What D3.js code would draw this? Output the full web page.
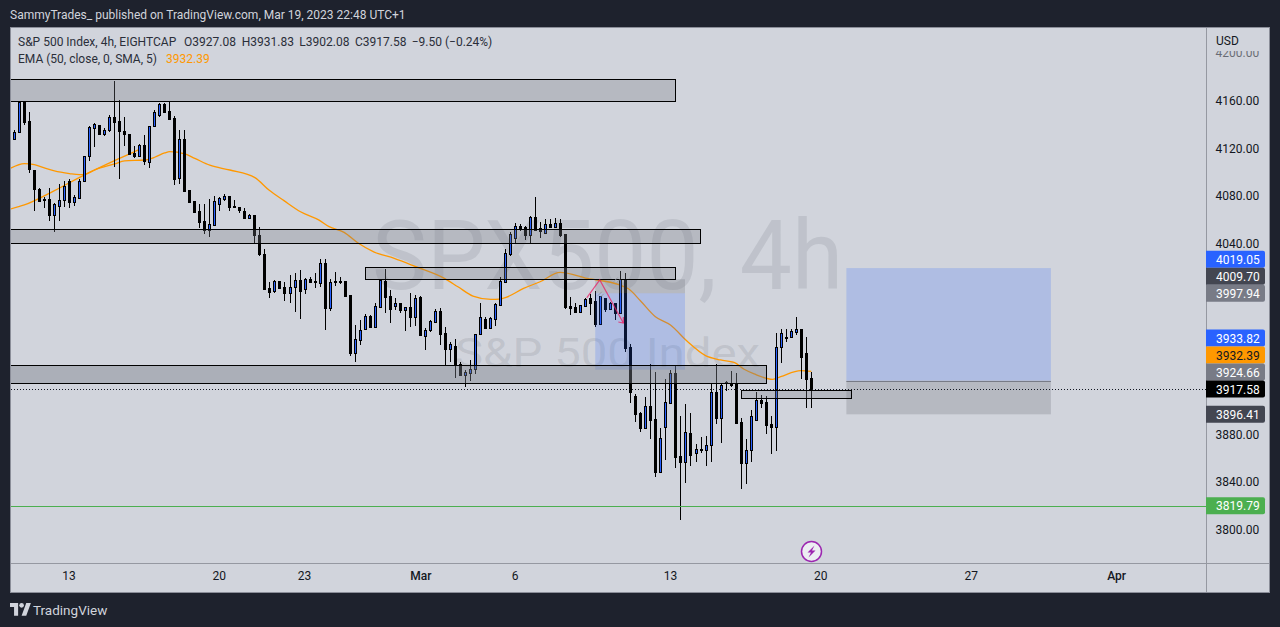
<!DOCTYPE html>
<html lang="en">
<head>
<meta charset="UTF-8">
<title>SPX500 4h</title>
<script src="https://d3js.org/d3.v7.min.js"></script>
<style>
    html, body { margin: 0; padding: 0; background: #1e222d; overflow: hidden; }
    svg { display: block; }
    text { font-family: Roboto, Arial, sans-serif; font-size: 12px; }
    .tick line, .domain { display: none; }
</style>
</head>
<body>
<svg id="chart" width="1280" height="627"></svg>
<script>
// candles
const opens = [4127.9,4127.6,4133.5,4158.6,4142.4,4101.3,4085.7,4077.0,4077.0,4063.9,
    4070.9,4075.9,4092.1,4074.8,4077.6,4091.8,4113.4,4136.8,4138.8,4131.8,
    4134.6,4145.5,4142.2,4133.8,4131.3,4115.3,4113.4,4122.0,4108.3,4138.0,
    4147.2,4156.7,4150.5,4144.7,4094.4,4127.1,4084.3,4075.1,4066.7,4058.3,
    4051.3,4055.5,4073.1,4077.3,4079.3,4071.2,4070.0,4066.7,4061.4,4063.3,
    4046.8,4030.8,4002.3,4000.1,4008.2,4003.2,3998.4,4002.9,4009.0,4001.8,
    4009.9,4008.2,4006.8,4023.3,3985.8,4007.9,4007.4,4008.2,3996.2,3948.1,
    3959.0,3968.2,3978.9,3969.9,3986.7,4008.2,3995.3,3987.5,3989.7,3984.2,
    3986.1,3978.3,3994.5,3962.4,3966.8,3974.1,3982.8,3964.3,3951.5,3953.7,
    3938.3,3929.7,3931.3,3934.1,3963.5,3976.3,3969.1,3976.6,3988.4,4007.6,
    4031.1,4044.5,4054.3,4053.5,4047.0,4061.6,4052.6,4048.7,4056.0,4053.8,
    4056.5,4047.3,3987.2,3986.4,3982.5,3987.5,3993.9,3991.4,3972.4,3993.9,
    3985.0,3989.5,3981.6,4009.6,3952.6,3911.5,3897.5,3885.3,3903.1,3892.2,
    3848.4,3886.1,3906.2,3930.8,3861.2,3856.7,3880.5,3863.7,3867.4,3866.8,
    3870.4,3914.9,3893.6,3923.3,3922.7,3921.6,3889.7,3855.9,3866.2,3892.0,
    3908.7,3906.8,3888.0,3886.1,3952.6,3961.3,3961.0,3965.7,3967.7,3947.6,
    3927.08];
const highs = [4128.0,4134.9,4158.6,4158.6,4149.7,4101.3,4086.3,4078.4,4086.0,4073.4,
    4089.3,4092.1,4093.5,4080.4,4093.5,4112.8,4138.2,4141.0,4139.1,4136.3,
    4147.5,4176.0,4160.0,4145.8,4131.3,4121.5,4123.2,4130.7,4138.2,4151.7,
    4157.8,4157.8,4158.6,4146.6,4134.6,4134.6,4084.3,4075.6,4072.6,4072.6,
    4076.8,4079.3,4079.0,4080.9,4079.5,4076.2,4070.6,4069.2,4064.5,4063.6,
    4053.2,4034.7,4007.1,4009.0,4008.2,4007.6,4013.2,4014.6,4017.4,4011.0,
    4011.3,4015.2,4026.4,4026.4,4009.6,4015.7,4011.8,4008.2,3996.5,3971.3,
    3975.5,3980.2,3979.4,3990.0,4009.0,4018.0,4000.7,3993.7,3990.0,3986.7,
    3997.9,3996.5,3995.6,3968.5,3975.5,3984.4,3985.3,3969.3,3957.3,3959.3,
    3940.6,3933.3,3941.9,3963.8,3989.5,3978.3,3978.3,3989.5,4011.3,4034.7,
    4049.6,4056.5,4055.7,4054.6,4062.7,4078.4,4057.4,4059.9,4059.9,4060.7,
    4059.9,4047.3,3994.5,3990.0,3988.1,3994.2,3997.3,4000.1,3995.6,3993.9,
    3990.9,3989.5,4016.6,4014.6,3955.1,3913.2,3898.7,3910.7,3938.4,3931.6,
    3884.7,3925.8,3933.6,3937.2,3895.0,3905.1,3897.3,3871.3,3877.1,3878.3,
    3922.4,3938.4,3921.9,3924.4,3932.5,3931.4,3893.4,3875.5,3900.1,3915.4,
    3912.6,3911.8,3895.0,3964.6,3968.0,3967.7,3967.7,3977.8,3968.0,3961.3,
    3931.83];
const lows = [4120.0,4127.1,4132.1,4139.1,4099.1,4067.2,4074.8,4069.5,4058.9,4049.6,
    4058.9,4070.6,4069.2,4071.2,4076.8,4091.6,4109.2,4120.9,4130.7,4130.1,
    4133.5,4104.1,4094.1,4121.5,4115.0,4111.7,4112.5,4105.5,4103.3,4137.7,
    4146.1,4149.4,4144.1,4089.1,4089.6,4084.0,4074.8,4065.6,4053.0,4047.4,
    4045.4,4055.5,4067.0,4075.6,4067.2,4069.5,4065.0,4060.8,4060.3,4039.9,
    4029.4,4000.7,3993.9,3998.4,4002.6,3991.7,3989.5,3982.5,3976.6,3997.3,
    4007.4,4002.0,4003.4,3967.4,3983.3,4004.0,4005.7,3994.5,3945.6,3940.3,
    3954.5,3967.1,3969.6,3969.6,3985.3,3981.4,3973.0,3983.9,3981.6,3966.6,
    3969.9,3970.5,3962.9,3950.3,3965.7,3972.7,3954.5,3937.8,3940.6,3927.1,
    3929.4,3919.6,3924.6,3930.2,3963.2,3969.1,3968.8,3970.5,3988.1,4006.8,
    4029.4,4038.9,4050.4,4042.6,4039.8,4050.4,4044.3,4048.4,4053.2,4053.2,
    4045.4,3985.0,3980.0,3981.6,3981.6,3986.7,3980.0,3969.3,3972.1,3982.5,
    3984.4,3975.5,3981.1,3948.7,3906.2,3890.3,3881.6,3885.0,3876.0,3844.2,
    3847.5,3858.1,3905.1,3851.7,3808.1,3839.1,3853.4,3856.5,3864.3,3853.4,
    3856.5,3888.3,3872.7,3916.3,3919.6,3889.4,3834.1,3838.3,3856.5,3891.7,
    3902.0,3880.2,3863.2,3866.0,3939.8,3956.8,3960.2,3963.2,3926.3,3902.0,
    3902.08];
const closes = [4120.4,4132.9,4158.1,4141.9,4101.9,4085.7,4075.6,4075.9,4063.9,4072.6,
    4075.9,4087.9,4074.8,4078.7,4092.1,4112.8,4137.1,4139.6,4131.5,4134.9,
    4145.5,4141.3,4133.8,4131.3,4115.0,4113.1,4122.0,4108.6,4138.0,4150.0,
    4156.7,4150.3,4144.4,4094.1,4127.1,4084.0,4074.8,4066.1,4058.0,4051.3,
    4055.8,4075.1,4077.6,4079.5,4070.6,4070.3,4068.1,4061.1,4063.3,4046.6,
    4030.8,4001.5,3999.3,4007.9,4002.6,3998.4,4003.2,4009.0,4000.1,4009.9,
    4007.6,4007.6,4023.0,3985.8,4007.1,4007.4,4007.9,3995.6,3948.1,3959.3,
    3966.8,3978.6,3969.9,3987.0,4008.8,3995.1,3985.0,3989.7,3984.2,3986.1,
    3977.7,3993.7,3963.2,3966.8,3974.4,3982.8,3964.0,3951.5,3955.1,3937.8,
    3929.7,3931.9,3934.1,3963.5,3977.7,3969.1,3976.9,3988.9,4007.9,4031.4,
    4047.3,4054.0,4052.9,4047.0,4061.6,4051.0,4049.8,4055.7,4053.8,4056.8,
    4047.0,3986.7,3985.8,3982.2,3987.8,3993.1,3990.0,3972.4,3995.3,3985.0,
    3989.7,3981.6,4009.6,3952.3,3915.4,3897.0,3885.3,3903.1,3892.0,3848.4,
    3876.3,3906.5,3930.8,3860.9,3856.7,3881.3,3862.1,3867.1,3866.8,3870.4,
    3914.9,3893.6,3920.7,3922.4,3921.0,3889.4,3855.9,3866.2,3894.8,3908.2,
    3906.2,3887.8,3886.1,3952.6,3964.6,3960.7,3966.0,3967.7,3944.8,3926.3,
    3917.58];

// EMA line, [bar, price]. Two runs as published: the old one and the current one
const emaOld = [[0,4068.4],[3,4072.0],[9,4084.0],[15,4097.2],[21,4109.2],[25,4116.7],[26,4118.7]];
const emaNow = [[0,4102.2],[3,4106.7],[5,4105.8],[7,4103.0],[9,4100.5],[12,4098.3],[14,4097.4],[15,4097.7],
    [17,4101.3],[21,4106.4],[23,4108.9],[27,4109.7],[29,4112.0],[31,4115.6],[32,4116.7],[35,4114.8],
    [37,4111.1],[40,4105.3],[44,4101.3],[49,4094.9],[51.8,4084.5],[54.8,4075.6],[58.1,4066.3],[61.8,4059.3],
    [63.8,4053.8],[66.8,4049.0],[69.5,4040.3],[72.8,4032.5],[76.8,4027.2],[81.1,4020.2],[86.8,4010.4],
    [89.5,4003.4],[92.5,3995.6],[96.1,3992.8],[97.8,3993.1],[99.1,3994.5],[102.6,4002.0],[105.9,4007.6],
    [109.9,4015.5],[115.3,4010.4],[121.6,4005.1],[123.6,4001.5],[125.9,3991.7],[128.9,3978.3],[131.9,3971.3],
    [135.3,3957.4],[138.9,3945.6],[141.9,3942.0],[144.6,3940.0],[146.6,3934.2],[148.6,3930.3],[152.3,3925.8],
    [153.9,3928.0],[157.9,3933.0],[160,3932.39]];

// drawn zones: [from bar, to bar, top price, bottom price]
const zones = [[-1,132.8,4177.4,4158.9],[-1,137.8,4051.6,4039.8],[70.9,132.8,4019.7,4009.6],[-1,151,3937.5,3923.0],[146,168,3917.0,3909.9]];
const shortPos = {from:116.9, to:134.8, stop:4009.70, entry:3997.94, target:3933.82};
const longPos = {from:167, to:207.8, target:4019.05, entry:3924.66, stop:3896.41};
const arrowPts = [[115.2,3994.0],[117.8,4009.1],[122.5,3973.0]];
const markPts = [[118,3997.5],[121.2,4009.5]];
const greenLevel = 3819.79;
const lastClose = 3917.58;

const priceTicks = [4200,4160,4120,4080,4040,3880,3840,3800];
const dateBars = [11.8,41.8,58.8,82,100.8,131.8,161.8,191.8,220.8];
const dateLabels = ["13","20","23","Mar","6","13","20","27","Apr"];

const flagPrices = [4019.05,4009.70,3997.94,3933.82,3932.39,3924.66,3917.58,3896.41,3819.79];
const flagFills = ["#2962ff","#434651","#787b86","#2962ff","#ff9800","#787b86","#000000","#434651","#4caf50"];
const flagInk = ["#fff","#fff","#fff","#fff","#131722","#fff","#fff","#fff","#fff"];

const svg = d3.select("#chart");
const paneL = 11, paneR = 1206, paneT = 28, paneB = 563;

const x = d3.scaleLinear().domain([0,160]).range([9.3,811.3]);
const y = d3.scaleLinear().domain([3800,4160]).range([529.3,100]);

// panel
svg.append("rect").attr("x",10.5).attr("y",27.5).attr("width",1259).attr("height",565)
    .attr("fill","#d1d4dc").attr("stroke","#8b8e99");
svg.append("line").attr("x1",1206.5).attr("x2",1206.5).attr("y1",28).attr("y2",592).attr("stroke","#9598a1");
svg.append("line").attr("x1",11).attr("x2",1269).attr("y1",563.5).attr("y2",563.5).attr("stroke","#9598a1");

svg.append("clipPath").attr("id","pane").append("rect")
    .attr("x",paneL).attr("y",paneT).attr("width",paneR-paneL).attr("height",paneB-paneT);
const pane = svg.append("g").attr("clip-path","url(#pane)");

// watermark
pane.append("text").attr("x",372).attr("y",289).style("font-size","96px")
    .attr("textLength",471).attr("lengthAdjust","spacingAndGlyphs")
    .attr("fill","rgba(120,123,134,0.2)").text("SPX500, 4h");
pane.append("text").attr("x",455).attr("y",367).style("font-size","40px")
    .attr("textLength",305).attr("lengthAdjust","spacingAndGlyphs")
    .attr("fill","rgba(120,123,134,0.2)").text("S&P 500 Index");

// EMA under the candles
const emaLine = d3.line().x(d => x(d[0])).y(d => y(d[1])).curve(d3.curveMonotoneX);
[emaOld, emaNow].forEach(run => {
    pane.append("path").attr("d",emaLine(run)).attr("fill","none")
        .attr("stroke","#ff9800").attr("stroke-width",1.3);
});

// candles
const bars = d3.range(opens.length);
pane.selectAll(".wick").data(bars).enter().append("rect").attr("class","wick")
    .attr("x",i => Math.floor(x(i))).attr("width",1)
    .attr("y",i => Math.round(y(highs[i])))
    .attr("height",i => Math.max(1,Math.round(y(lows[i]))-Math.round(y(highs[i]))))
    .attr("fill","#000");
pane.selectAll(".body").data(bars).enter().append("rect").attr("class","body")
    .attr("x",i => Math.floor(x(i))-0.5).attr("width",2)
    .attr("y",i => Math.round(y(Math.max(opens[i],closes[i])))+0.5)
    .attr("height",i => Math.max(1,Math.round(y(Math.min(opens[i],closes[i])))-Math.round(y(Math.max(opens[i],closes[i])))))
    .attr("fill",i => closes[i] > opens[i] ? "#2962ff" : "#000")
    .attr("stroke","#000").attr("stroke-width",1);

// position tools
function posBox(p, top, bottom, fill) {
    pane.append("rect").attr("x",x(p.from)).attr("width",x(p.to)-x(p.from))
        .attr("y",y(top)).attr("height",y(bottom)-y(top)).attr("fill",fill);
}
const blueFill = "rgba(41,98,255,0.2)", greyFill = "rgba(120,123,134,0.3)";
posBox(shortPos, shortPos.stop, shortPos.entry, greyFill);
posBox(shortPos, shortPos.entry, shortPos.target, blueFill);
posBox(longPos, longPos.target, longPos.entry, blueFill);
posBox(longPos, longPos.entry, longPos.stop, greyFill);
pane.append("line").attr("x1",x(longPos.from)).attr("x2",x(longPos.to))
    .attr("y1",Math.round(y(longPos.entry))+0.5).attr("y2",Math.round(y(longPos.entry))+0.5).attr("stroke","#787b86");

// levels
pane.append("line").attr("x1",paneL).attr("x2",paneR)
    .attr("y1",Math.round(y(greenLevel))+0.5).attr("y2",Math.round(y(greenLevel))+0.5).attr("stroke","#4caf50");
pane.append("line").attr("x1",paneL).attr("x2",paneR)
    .attr("y1",Math.round(y(lastClose))+0.5).attr("y2",Math.round(y(lastClose))+0.5)
    .attr("stroke","#131722").attr("stroke-dasharray","1,2");

// zones
pane.selectAll(".zone").data(zones).enter().append("rect").attr("class","zone")
    .attr("x",d => Math.round(x(d[0]))+0.5)
    .attr("y",d => Math.round(y(d[2]))+0.5)
    .attr("width",d => Math.round(x(d[1]))-Math.round(x(d[0])))
    .attr("height",d => Math.round(y(d[3]))-Math.round(y(d[2])))
    .attr("fill",(d,i) => i === 3 ? "rgba(120,123,134,0.42)" : "rgba(120,123,134,0.3)")
    .attr("stroke","#000").attr("stroke-width",1);

// hand drawn arrow
const end = arrowPts[arrowPts.length-1];
const arrow = pane.append("g").attr("fill","none").attr("stroke","#e91e63").attr("stroke-opacity",0.75).attr("stroke-width",1.2);
arrow.append("path").attr("d",d3.line().x(d => x(d[0])).y(d => y(d[1]))(arrowPts));
arrow.append("path").attr("d",`M${x(end[0])-5},${y(end[1])-1}L${x(end[0])},${y(end[1])}L${x(end[0])},${y(end[1])-6}`);

// little grey ticks beside the arrow
pane.selectAll(".mark").data(markPts).enter().append("path").attr("class","mark")
    .attr("d",d => `M${x(d[0])-3},${y(d[1])+2}L${x(d[0])+1},${y(d[1])-2}M${x(d[0])},${y(d[1])+3}L${x(d[0])+3},${y(d[1])}`)
    .attr("fill","none").attr("stroke","#9598a1");

// axes
const yAxis = d3.axisRight(y).tickValues(priceTicks).tickFormat(d3.format(".2f")).tickSize(0).tickPadding(9);
const yg = svg.append("g").attr("transform",`translate(${paneR+0.5},0.5)`).call(yAxis);
yg.selectAll("text").attr("fill","#131722").attr("opacity",d => d === 4200 ? 0.55 : 1);

svg.append("rect").attr("x",1208).attr("y",29).attr("width",60).attr("height",22).attr("fill","#d1d4dc");
svg.append("text").attr("x",1216).attr("y",45).attr("fill","#131722").text("USD");

const xAxis = d3.axisBottom(x).tickValues(dateBars).tickFormat((d,i) => dateLabels[i]).tickSize(0).tickPadding(8);
const xg = svg.append("g").attr("transform",`translate(0,${paneB+0.5})`).call(xAxis);
xg.selectAll("text").attr("fill","#131722")
    .style("font-weight",(d,i) => dateLabels[i] === "Mar" || dateLabels[i] === "Apr" ? 500 : 400);

// price flags, pushed upward so they do not overlap
const flagY = flagPrices.map(p => y(p));
for (let i = flagY.length-2; i >= 0; i--) flagY[i] = Math.min(flagY[i], flagY[i+1]-17);
flagPrices.forEach((p,i) => {
    svg.append("path")
        .attr("d",`M1206,${flagY[i]-8.5}H1263a2,2 0 0 1 2,2V${flagY[i]+6.5}a2,2 0 0 1 -2,2H1206Z`)
        .attr("fill",flagFills[i]);
    svg.append("text").attr("x",1216).attr("y",flagY[i]+4.5).attr("fill",flagInk[i]).text(p.toFixed(2));
});

// earnings style marker
const bolt = svg.append("g").attr("transform","translate(811.5,551.5)");
bolt.append("circle").attr("r",10).attr("fill","#eceef2").attr("stroke","#9c27b0").attr("stroke-width",1.5);
bolt.append("path").attr("d","M3,-6L-4,1H-0.5L-3,6L4,-1H0.5Z").attr("fill","#9c27b0");

// top text
svg.append("text").attr("x",10).attr("y",19).attr("fill","#d1d4dc")
    .text("SammyTrades_ published on TradingView.com, Mar 19, 2023 22:48 UTC+1");
const legend = svg.append("g").attr("fill","#2a2e39");
legend.append("text").attr("x",18).attr("y",46).text("S&P 500 Index, 4h, EIGHTCAP");
legend.append("text").attr("x",184).attr("y",46).text("O3927.08");
legend.append("text").attr("x",241.7).attr("y",46).text("H3931.83");
legend.append("text").attr("x",299.3).attr("y",46).text("L3902.08");
legend.append("text").attr("x",355).attr("y",46).text("C3917.58");
legend.append("text").attr("x",411.7).attr("y",46).text("\u22129.50 (\u22120.24%)");
legend.append("text").attr("x",18).attr("y",63).text("EMA (50, close, 0, SMA, 5)");
legend.append("text").attr("x",166).attr("y",63).attr("fill","#ff9800").text("3932.39");

// footer logo
const logo = svg.append("g").attr("transform","translate(10,603) scale(0.58)").attr("fill","#d1d4dc");
logo.append("path").attr("d","M14 22H7V7H0V0h14v22zM28 22h-8L28 0h8L28 22z");
logo.append("circle").attr("cx",20).attr("cy",4).attr("r",4);
svg.append("text").attr("x",33).attr("y",615).style("font-size","13.5px").attr("fill","#d1d4dc").text("TradingView");
</script>
</body>
</html>
